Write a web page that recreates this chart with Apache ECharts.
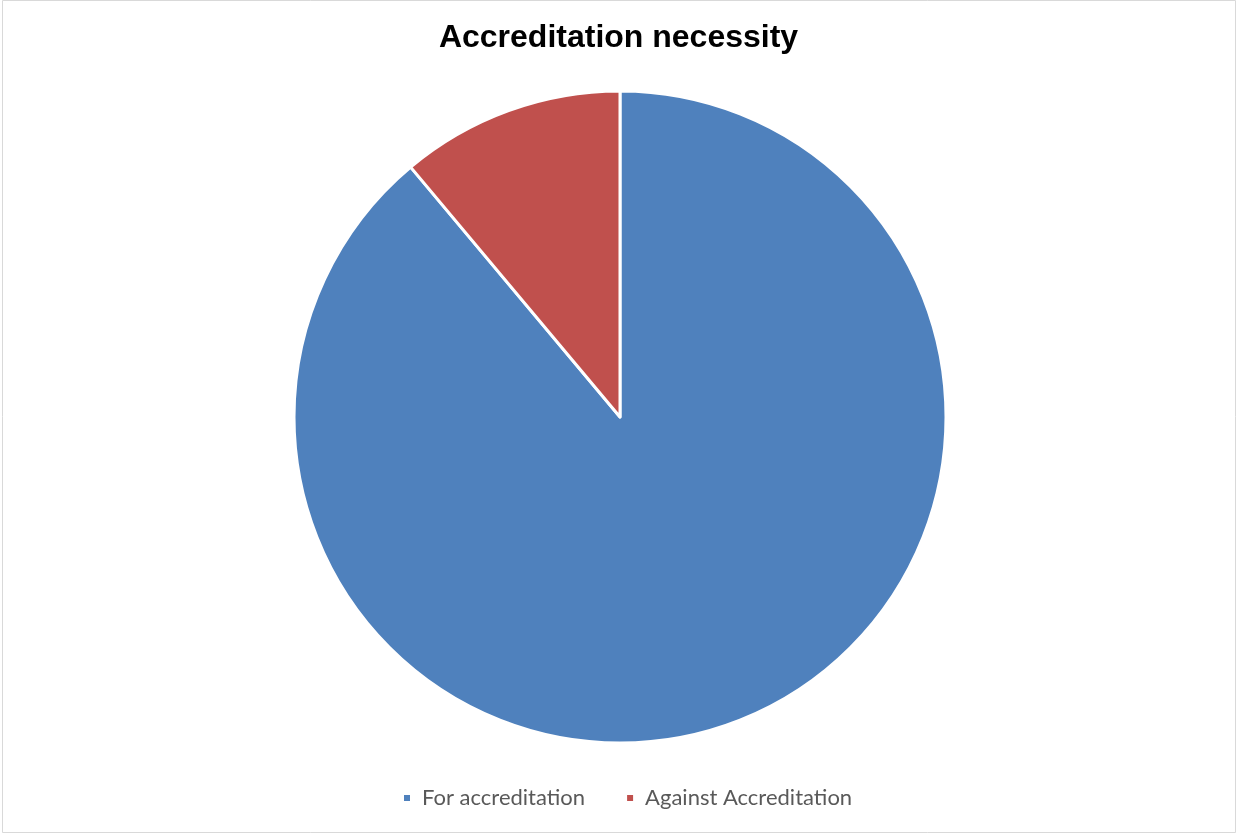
<!DOCTYPE html>
<html>
<head>
<meta charset="utf-8">
<script src="https://cdn.jsdelivr.net/npm/echarts@6/dist/echarts.min.js"></script>
<style>
  html, body { margin: 0; padding: 0; background: #ffffff; }
  #chart { width: 1237px; height: 835px; }
</style>
</head>
<body>
<div id="chart"></div>
<script>
// Survey answers on whether accreditation is needed
const categories = ['For accreditation', 'Against Accreditation'];
const shares = [88.9, 11.1];
const colors = ['#4f81bd', '#c0504d'];

const chart = echarts.init(document.getElementById('chart'), null, { renderer: 'canvas' });

chart.setOption({
  animation: false,
  backgroundColor: '#ffffff',
  title: {
    text: 'Accreditation necessity',
    left: 'center',
    top: 17,
    textStyle: {
      fontFamily: 'Liberation Sans, Arial, sans-serif',
      fontWeight: 'bold',
      fontSize: 32,
      color: '#000000'
    }
  },
  legend: {
    data: categories,
    bottom: 21,
    left: 397,
    icon: 'rect',
    itemWidth: 8,
    itemHeight: 8,
    itemGap: 40,
    textStyle: {
      fontFamily: 'Lato, Carlito, Calibri, sans-serif',
      fontSize: 22,
      color: '#595959',
      padding: [0, 0, 0, 6]
    }
  },
  graphic: [{
    type: 'rect',
    shape: { x: 2.5, y: 0.5, width: 1233, height: 832 },
    style: { fill: 'none', stroke: '#d9d9d9', lineWidth: 1 },
    silent: true,
    z: 100
  }],
  series: [{
    type: 'pie',
    center: [620, 417],
    radius: [0, 326],
    startAngle: 90,
    clockwise: true,
    label: { show: false },
    labelLine: { show: false },
    itemStyle: { borderColor: '#ffffff', borderWidth: 3 },
    data: categories.map((name, i) => ({
      name: name,
      value: shares[i],
      itemStyle: { color: colors[i] }
    }))
  }]
});
</script>
</body>
</html>
